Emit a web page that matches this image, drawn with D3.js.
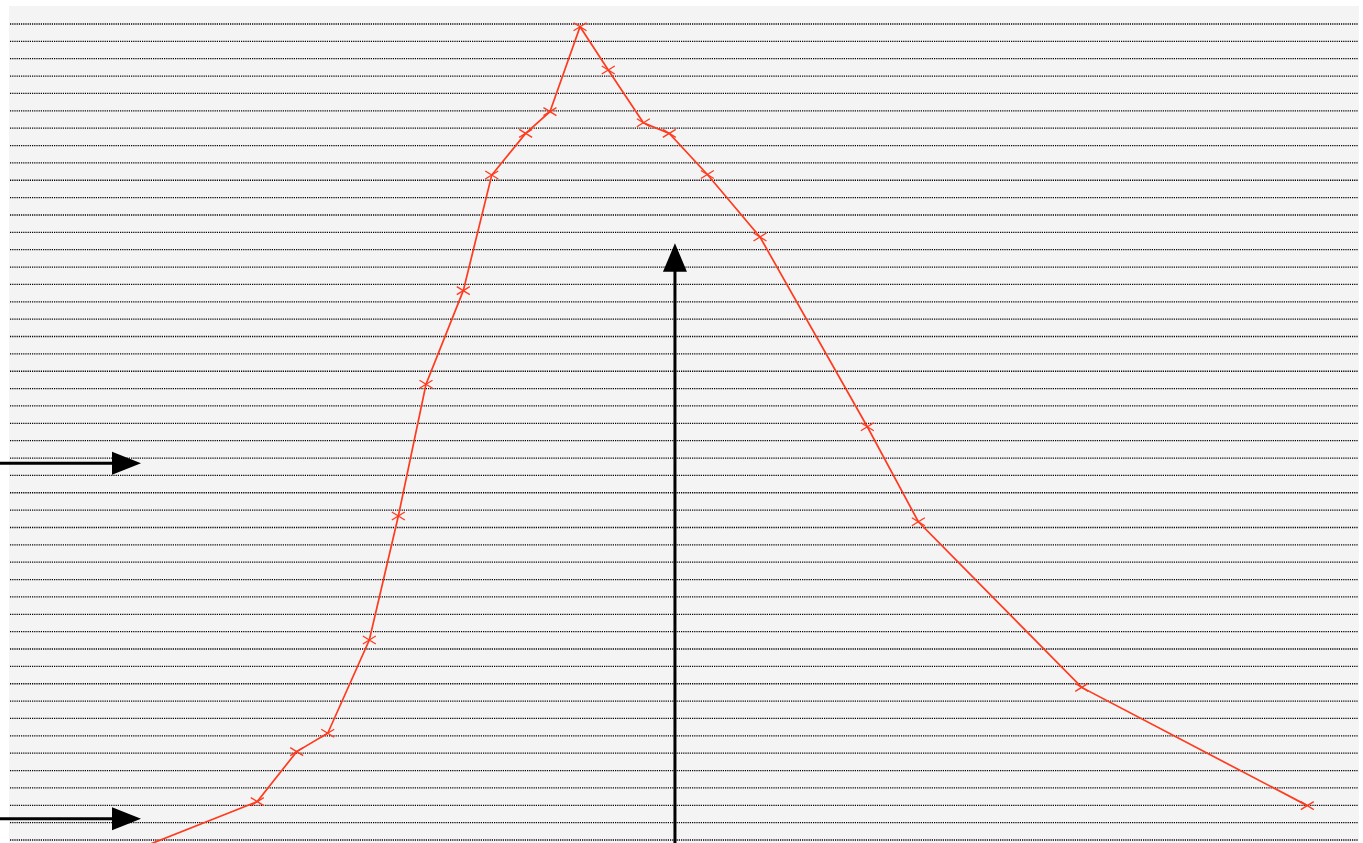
<!DOCTYPE html>
<html>
<head>
<meta charset="utf-8">
<script src="https://cdn.jsdelivr.net/npm/d3@7"></script>
<style>
  html, body { margin: 0; padding: 0; background: #fff; }
  svg { display: block; }
</style>
</head>
<body>
<div id="chart"></div>
<script>
// profile (x in arbitrary units 0..100, y in grid steps)
const xValues = [9.7, 18.39, 21.31, 23.61, 26.69, 28.84, 30.89, 33.65, 35.76, 38.27, 40.07,
  42.30, 44.39, 46.99, 48.91, 51.73, 55.63, 63.58, 67.36, 79.46, 96.17];
const yValues = [-0.47, 2.21, 5.09, 6.15, 11.52, 18.66, 26.25, 31.64, 38.30, 40.70, 41.95,
  46.84, 44.35, 41.31, 40.70, 38.33, 34.73, 23.80, 18.33, 8.79, 1.98];
const gridLevels = d3.range(0, 48);

// annotation arrows
const sideArrowLevels = [21.7, 1.23];
const sideArrowTipX = 9.78;
const upArrowX = 49.33;
const upArrowTipY = 34.37;

const width = 1363;
const height = 843;
const panel = { left: 9, right: 1359, top: 6 };

const x = d3.scaleLinear().domain([0, 100]).range([panel.left, panel.right]);
const y = d3.scaleLinear().domain([0, 47]).range([840, 24]);

const svg = d3.select('#chart')
  .append('svg')
  .attr('width', width)
  .attr('height', height);

svg.append('rect')
  .attr('x', panel.left)
  .attr('y', panel.top)
  .attr('width', panel.right - panel.left)
  .attr('height', height - panel.top)
  .attr('fill', '#f4f4f4');

svg.append('g')
  .selectAll('line')
  .data(gridLevels)
  .enter()
  .append('line')
  .attr('x1', panel.left + 1)
  .attr('x2', panel.right - 1)
  .attr('y1', d => y(d))
  .attr('y2', d => y(d))
  .attr('stroke', '#000')
  .attr('stroke-width', 1.3)
  .attr('stroke-dasharray', '1.2,1');

const points = xValues.map((v, i) => [v, yValues[i]]);

const line = d3.line()
  .x(d => x(d[0]))
  .y(d => y(d[1]));

svg.append('path')
  .datum(points)
  .attr('d', line)
  .attr('fill', 'none')
  .attr('stroke', '#ff3b1f')
  .attr('stroke-width', 1.7);

const marker = svg.append('g')
  .selectAll('g')
  .data(points)
  .enter()
  .append('g')
  .attr('transform', d => `translate(${x(d[0])},${y(d[1])})`);

marker.append('path')
  .attr('d', 'M-6.5,-4L6.5,4M-6.5,4L6.5,-4')
  .attr('stroke', '#ff3b1f')
  .attr('stroke-width', 1.3)
  .attr('fill', 'none');

// arrows
const arrows = svg.append('g');

sideArrowLevels.forEach(level => {
  const ay = y(level);
  const tip = x(sideArrowTipX);
  arrows.append('line')
    .attr('x1', 0)
    .attr('x2', tip - 20)
    .attr('y1', ay)
    .attr('y2', ay)
    .attr('stroke', '#000')
    .attr('stroke-width', 3);
  arrows.append('path')
    .attr('d', `M${tip},${ay}L${tip - 29},${ay - 11.5}L${tip - 29},${ay + 11.5}Z`)
    .attr('fill', '#000');
});

const ux = x(upArrowX);
const uy = y(upArrowTipY);
arrows.append('line')
  .attr('x1', ux)
  .attr('x2', ux)
  .attr('y1', height)
  .attr('y2', uy + 20)
  .attr('stroke', '#000')
  .attr('stroke-width', 3);
arrows.append('path')
  .attr('d', `M${ux},${uy}L${ux - 12},${uy + 28.5}L${ux + 12},${uy + 28.5}Z`)
  .attr('fill', '#000');
</script>
</body>
</html>
